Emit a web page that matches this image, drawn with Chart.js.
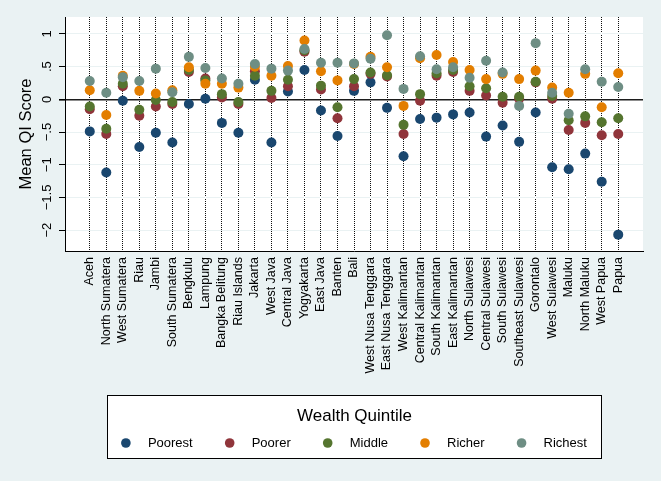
<!DOCTYPE html>
<html>
<head>
<meta charset="utf-8">
<script src="https://cdn.jsdelivr.net/npm/chart.js@4.4.0/dist/chart.umd.min.js"></script>
<style>
  body { margin: 0; background: #eaf2f3; }
  canvas { display: block; }
</style>
</head>
<body>
<canvas id="myChart" width="661" height="481"></canvas>
<script>
'use strict';

let provinces = ['Aceh', 'North Sumatera', 'West Sumatera', 'Riau', 'Jambi', 'South Sumatera', 'Bengkulu', 'Lampung', 'Bangka Belitung', 'Riau Islands', 'Jakarta', 'West Java', 'Central Java', 'Yogyakarta', 'East Java', 'Banten', 'Bali', 'West Nusa Tenggara', 'East Nusa Tenggara', 'West Kalimantan', 'Central Kalimantan', 'South Kalimantan', 'East Kalimantan', 'North Sulawesi', 'Central Sulawesi', 'South Sulawesi', 'Southeast Sulawesi', 'Gorontalo', 'West Sulawesi', 'Maluku', 'North Maluku', 'West Papua', 'Papua'];

let poorest = [-0.49, -1.12, -0.02, -0.73, -0.51, -0.66, -0.07, 0.01, -0.36, -0.51, 0.30, -0.66, 0.12, 0.45, -0.17, -0.56, 0.13, 0.26, -0.13, -0.87, -0.30, -0.28, -0.23, -0.20, -0.57, -0.40, -0.65, -0.20, -1.04, -1.07, -0.83, -1.26, -2.07];
let poorer = [-0.15, -0.53, 0.20, -0.25, -0.11, -0.07, 0.42, 0.32, 0.03, -0.07, 0.43, 0.02, 0.20, 0.73, 0.15, -0.29, 0.20, 0.39, 0.35, -0.53, -0.02, 0.36, 0.42, 0.13, 0.06, -0.05, 0.01, 0.26, 0.01, -0.47, -0.36, -0.55, -0.53];
let middle = [-0.11, -0.45, 0.24, -0.16, -0.01, -0.04, 0.45, 0.29, 0.08, -0.04, 0.36, 0.13, 0.30, 0.75, 0.21, -0.12, 0.31, 0.41, 0.37, -0.39, 0.08, 0.40, 0.45, 0.20, 0.17, 0.04, 0.04, 0.27, 0.05, -0.32, -0.26, -0.35, -0.29];
let richer = [0.14, -0.24, 0.36, 0.13, 0.09, 0.14, 0.49, 0.24, 0.24, 0.18, 0.50, 0.36, 0.51, 0.90, 0.43, 0.29, 0.54, 0.65, 0.49, -0.10, 0.63, 0.68, 0.57, 0.45, 0.31, 0.39, 0.31, 0.44, 0.18, 0.10, 0.39, -0.12, 0.40];
let richest = [0.28, 0.10, 0.34, 0.28, 0.47, 0.11, 0.65, 0.48, 0.32, 0.24, 0.54, 0.47, 0.44, 0.77, 0.56, 0.56, 0.55, 0.62, 0.98, 0.16, 0.66, 0.46, 0.49, 0.33, 0.59, 0.41, -0.10, 0.86, 0.10, -0.22, 0.46, 0.27, 0.19];

let seriesNames = ['Poorest', 'Poorer', 'Middle', 'Richer', 'Richest'];
let seriesColors = ['#1a476f', '#90353b', '#55752f', '#e37e00', '#6e8e84'];
let allSeries = [poorest, poorer, middle, richer, richest];

let yTickValues = [-2, -1.5, -1, -0.5, 0, 0.5, 1];
let yTickLabels = ['\u22122', '\u22121.5', '\u22121', '\u2212.5', '0', '.5', '1'];

const FONT = '"Liberation Sans", Arial, sans-serif';

function makeDatasets() {
  let sets = [];
  for (let s = 0; s < allSeries.length; s++) {
    sets.push({
      label: seriesNames[s],
      data: allSeries[s].map((v, i) => ({x: i, y: v})),
      backgroundColor: seriesColors[s],
      borderColor: seriesColors[s],
      borderWidth: 0,
      pointRadius: 5,
      pointHoverRadius: 5,
      order: allSeries.length - s
    });
  }
  return sets;
}

// stata-ish background: light outer region, white plot region
let backdrop = {
  id: 'backdrop',
  beforeDraw(chart) {
    let ctx = chart.ctx;
    let a = chart.chartArea;
    ctx.save();
    ctx.fillStyle = '#eaf2f3';
    ctx.fillRect(0, 0, chart.width, chart.height);
    ctx.fillStyle = '#ffffff';
    ctx.fillRect(a.left, a.top, a.right - a.left, a.bottom - a.top);
    ctx.restore();
  }
};

// boxed legend with a title, centred under the plot region
let boxLegend = {
  id: 'boxLegend',
  afterDraw(chart) {
    let ctx = chart.ctx;
    let a = chart.chartArea;
    let cx = (a.left + a.right) / 2;
    let top = chart.height - 86;
    let bottom = chart.height - 23;
    let r = 4.8, gapText = 22, gapItem = 37;

    ctx.save();
    ctx.font = '13px ' + FONT;
    let sets = chart.data.datasets;
    let widths = sets.map(d => ctx.measureText(d.label).width);
    let total = r;
    widths.forEach((w, i) => { total += gapText + w + (i < widths.length - 1 ? gapItem : 0); });

    let boxL = Math.round(cx - total / 2 - 14) + 0.5;
    let boxR = Math.round(cx + total / 2 + 14) + 0.5;
    ctx.fillStyle = '#ffffff';
    ctx.fillRect(boxL, top + 0.5, boxR - boxL, bottom - top);
    ctx.strokeStyle = '#000000';
    ctx.lineWidth = 1;
    ctx.strokeRect(boxL, top + 0.5, boxR - boxL, bottom - top);

    ctx.fillStyle = '#000000';
    ctx.textAlign = 'center';
    ctx.textBaseline = 'middle';
    ctx.font = '17px ' + FONT;
    ctx.fillText('Wealth Quintile', (boxL + boxR) / 2, top + 21);

    ctx.font = '13px ' + FONT;
    ctx.textAlign = 'left';
    let x = cx - total / 2 + r;
    let y = top + 48;
    for (let i = 0; i < sets.length; i++) {
      ctx.fillStyle = sets[i].backgroundColor;
      ctx.beginPath();
      ctx.arc(x, y, r, 0, Math.PI * 2);
      ctx.fill();
      ctx.fillStyle = '#000000';
      ctx.fillText(sets[i].label, x + gapText, y + 0.5);
      x += gapText + widths[i] + gapItem;
    }
    ctx.restore();
  }
};

let ctx = document.getElementById('myChart');

let config = {
  type: 'scatter',
  data: {
    datasets: makeDatasets()
  },
  options: {
    responsive: false,
    animation: false,
    devicePixelRatio: 1,
    layout: {
      padding: {top: 17, right: 18, bottom: 86, left: 0}
    },
    plugins: {
      legend: {display: false},
      tooltip: {enabled: false}
    },
    scales: {
      x: {
        type: 'linear',
        min: -1.5,
        max: provinces.length + 0.5,
        afterBuildTicks: (scale) => {
          scale.ticks = provinces.map((p, i) => ({value: i}));
        },
        afterFit: (scale) => { scale.height = 144; },
        ticks: {
          autoSkip: false,
          minRotation: 90,
          maxRotation: 90,
          padding: 6,
          color: '#000000',
          font: {family: FONT, size: 12.5},
          callback: (value) => provinces[value]
        },
        grid: {
          color: '#111111',
          lineWidth: 1,
          drawTicks: false
        },
        border: {
          display: true,
          color: '#000000',
          width: 1,
          dash: [1, 1]
        }
      },
      y: {
        min: -2.32,
        max: 1.26,
        afterBuildTicks: (scale) => {
          scale.ticks = yTickValues.map(v => ({value: v}));
        },
        afterFit: (scale) => { scale.width = 65; },
        ticks: {
          minRotation: 90,
          maxRotation: 90,
          crossAlign: 'center',
          padding: -1,
          color: '#000000',
          font: {family: FONT, size: 13},
          callback: (value) => yTickLabels[yTickValues.indexOf(value)]
        },
        grid: {
          color: (c) => (c.tick && c.tick.value === 0 ? '#1c1c1c' : '#eaf2f3'),
          lineWidth: (c) => (c.tick && c.tick.value === 0 ? 1.6 : 1),
          tickColor: '#000000',
          tickLength: 6
        },
        border: {
          color: '#000000',
          width: 1
        },
        title: {
          display: true,
          text: 'Mean QI Score',
          color: '#000000',
          font: {family: FONT, size: 16.5},
          padding: {top: 17, bottom: 0}
        }
      }
    }
  },
  plugins: [backdrop, boxLegend]
};

new Chart(ctx, config);
</script>
</body>
</html>
